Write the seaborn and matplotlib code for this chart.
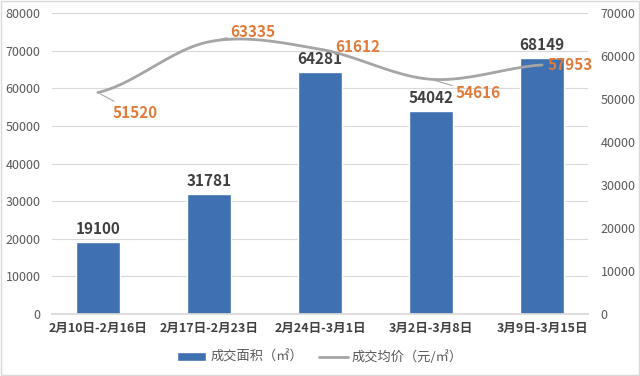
import numpy as np
import pandas as pd
import matplotlib
matplotlib.use('Agg')
import matplotlib.pyplot as plt
import seaborn as sns
from matplotlib.patches import Patch, Rectangle
from matplotlib.lines import Line2D

# 数据
weeks = ['2月10日-2月16日', '2月17日-2月23日', '2月24日-3月1日', '3月2日-3月8日', '3月9日-3月15日']
area = [19100, 31781, 64281, 54042, 68149]       # 成交面积（㎡）
price = [51520, 63335, 61612, 54616, 57953]      # 成交均价（元/㎡）

sns.set_theme(style='white')
plt.rcParams['font.family'] = ['Noto Sans CJK SC', 'DejaVu Sans']
plt.rcParams['axes.unicode_minus'] = False

df = pd.DataFrame({'week': weeks, 'area': area, 'price': price})

fig = plt.figure(figsize=(6.4, 3.76), dpi=100)
ax = fig.add_axes([0.081, 0.165, 0.838, 0.80])

bar_color = '#3F71B0'
sns.barplot(data=df, x='week', y='area', color=bar_color, width=0.39,
            saturation=1, ax=ax, zorder=2)

ax.set_ylim(0, 80000)
ax.set_yticks(range(0, 80001, 10000))
ax.yaxis.grid(True, color='#D9D9D9', lw=0.8, zorder=0)
ax.set_axisbelow(True)
for s in ['top', 'right', 'left']:
    ax.spines[s].set_visible(False)
ax.spines['bottom'].set_color('#D9D9D9')
ax.set_xlabel('')
ax.set_ylabel('')
ax.tick_params(axis='y', colors='#595959', labelsize=9, length=0, pad=8)
ax.tick_params(axis='x', colors='#404040', labelsize=9, length=0, pad=6)
for t in ax.get_xticklabels():
    t.set_fontweight('bold')

# 柱子标签
for i, v in enumerate(area):
    ax.annotate(str(v), xy=(i, v), xytext=(0, 5), textcoords='offset pixels',
                ha='center', va='bottom', fontsize=11, fontweight='bold',
                color='#404040', zorder=4)

# 次坐标轴：平滑折线
ax2 = ax.twinx()
ax2.set_ylim(0, 70000)
ax2.set_yticks(range(0, 70001, 10000))
for s in ax2.spines.values():
    s.set_visible(False)
ax2.tick_params(axis='y', colors='#595959', labelsize=9, length=0, pad=9)

# Catmull-Rom 平滑（类似 Excel 平滑线）
xs = np.arange(len(price), dtype=float)
ys = np.array(price, dtype=float)
px = np.concatenate([[2 * xs[0] - xs[1]], xs, [2 * xs[-1] - xs[-2]]])
py = np.concatenate([[ys[0]], ys, [ys[-1]]])
cx, cy = [], []
for k in range(1, len(px) - 2):
    t = np.linspace(0, 1, 30)
    for arr, out in ((px, cx), (py, cy)):
        p0, p1, p2, p3 = arr[k - 1], arr[k], arr[k + 1], arr[k + 2]
        out.extend(0.5 * ((2 * p1) + (-p0 + p2) * t +
                          (2 * p0 - 5 * p1 + 4 * p2 - p3) * t ** 2 +
                          (-p0 + 3 * p1 - 3 * p2 + p3) * t ** 3))
sns.lineplot(x=cx, y=cy, sort=False, color='#A5A5A5', lw=2, ax=ax2, zorder=3)

# 折线标签（带引导线）
offsets = [(37, -20), (44, 10), (38, 2), (47, -14), (28, 0)]
leaders = [True, True, False, True, False]
for i, v in enumerate(price):
    ap = dict(arrowstyle='-', color='#A5A5A5', lw=0.8, shrinkA=0, shrinkB=2) if leaders[i] else None
    ax2.annotate(str(v), xy=(i, v), xytext=offsets[i], textcoords='offset pixels',
                 ha='center', va='center', fontsize=11, fontweight='bold',
                 color='#E07B39', arrowprops=ap, zorder=5)

# 图例
handles = [Patch(facecolor=bar_color, label='成交面积（㎡）'),
           Line2D([0], [0], color='#A5A5A5', lw=2, label='成交均价（元/㎡）')]
fig.legend(handles=handles, loc='lower center', bbox_to_anchor=(0.5, 0.0), ncol=2,
           frameon=False, fontsize=9.5, labelcolor='#595959', handlelength=2.2,
           handletextpad=0.3, columnspacing=1.2)

# 外框
fig.patches.append(Rectangle((0.002, 0.003), 0.996, 0.994, transform=fig.transFigure,
                             fill=False, edgecolor='#D9D9D9', lw=1))

fig.savefig('out.png', dpi=100)
